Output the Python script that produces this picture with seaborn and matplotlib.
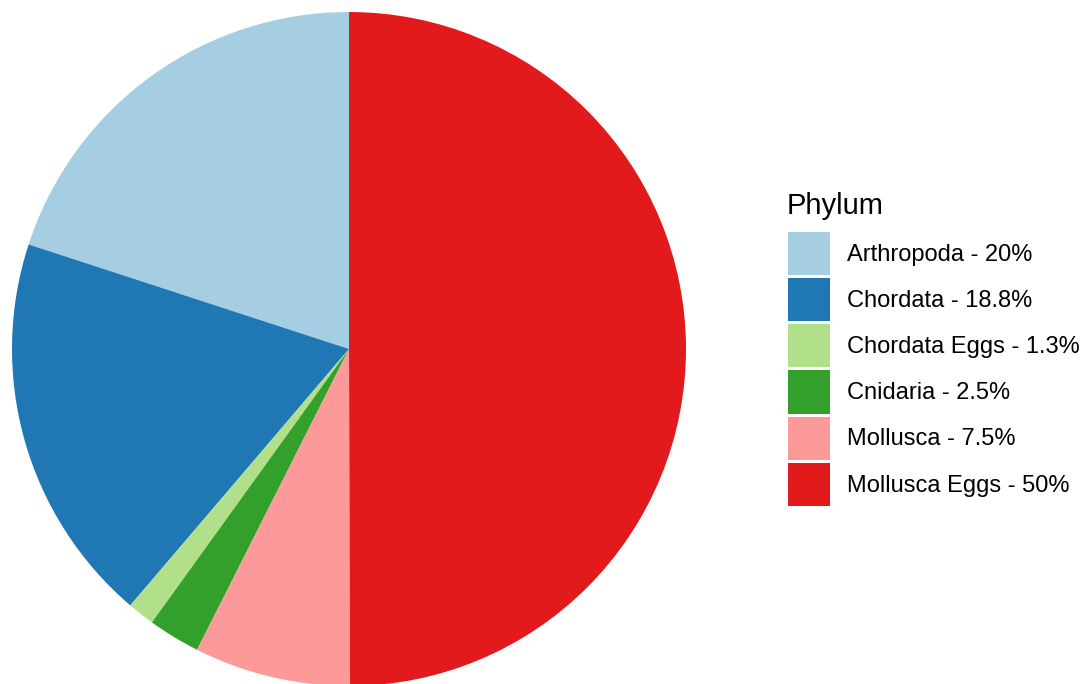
import matplotlib
matplotlib.use("Agg")
import matplotlib.pyplot as plt
from matplotlib.patches import Patch
import seaborn as sns

phylum = ["Arthropoda", "Chordata", "Chordata Eggs", "Cnidaria", "Mollusca", "Mollusca Eggs"]
percent = [20, 18.8, 1.3, 2.5, 7.5, 50]

sns.set_theme(style="white")
plt.rcParams["font.family"] = ["Liberation Sans", "DejaVu Sans"]
plt.rcParams["text.color"] = "black"

colors = sns.color_palette("Paired", len(phylum))

fig = plt.figure(figsize=(10.83, 6.84), dpi=100)
W, H = 1083, 684
cx, cy, r = 349, 349, 337
ax = fig.add_axes([(cx - r) / W, (H - cy - r) / H, 2 * r / W, 2 * r / H])

ax.pie(percent, colors=colors, startangle=90, counterclock=True,
       wedgeprops={"linewidth": 0, "edgecolor": "none"})
ax.set_aspect("auto")
ax.set_xlim(-1, 1)
ax.set_ylim(-1, 1)
ax.axis("off")

# legend keys + labels, title placed separately
labels = [f"{p} - {v:g}%" for p, v in zip(phylum, percent)]
handles = [Patch(facecolor=c, edgecolor="none") for c in colors]
leg = fig.legend(handles, labels, loc="upper left",
                 bbox_to_anchor=(788 / W, 1 - 232 / H), frameon=False,
                 fontsize=17, handlelength=1.78,
                 handleheight=2.43, labelspacing=0.13, handletextpad=0.72,
                 borderpad=0, borderaxespad=0, labelcolor="black")
fig.text(787 / W, 1 - 214 / H, "Phylum", fontsize=21, color="black",
         ha="left", va="baseline")

fig.savefig("out.png", dpi=100)
